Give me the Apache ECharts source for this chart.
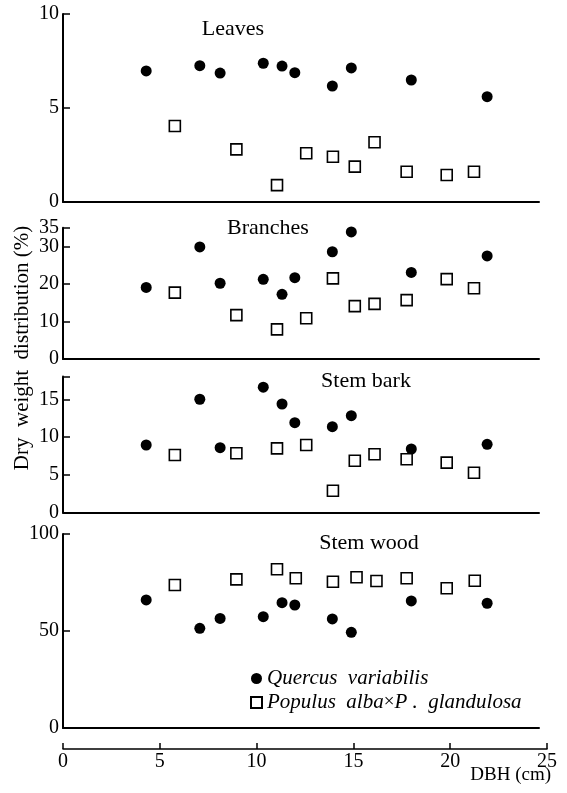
<!DOCTYPE html>
<html>
<head>
<meta charset="utf-8">
<script src="https://cdn.jsdelivr.net/npm/echarts@6/dist/echarts.min.js"></script>
<style>
  html, body { margin: 0; padding: 0; background: #fff; }
  #chart { width: 567px; height: 793px; }
</style>
</head>
<body>
<div id="chart"></div>
<script>
// DBH (cm) of the sampled trees, shared by the panels
const quercusDbh = [4.3, 7.07, 8.12, 10.35, 11.32, 11.98, 13.92, 14.9, 18.0, 21.92]
const populusDbh = [5.78, 8.96, 11.06, 12.57, 13.95, 15.08, 16.1, 17.76, 19.83, 21.24]
const populusDbhWood = [5.78, 8.96, 11.06, 12.03, 13.95, 15.17, 16.2, 17.76, 19.83, 21.28]

// dry weight distribution (%)
const leavesQuercus = [6.97, 7.25, 6.86, 7.38, 7.23, 6.88, 6.17, 7.13, 6.49, 5.6]
const leavesPopulus = [4.04, 2.8, 0.9, 2.59, 2.41, 1.88, 3.18, 1.61, 1.44, 1.61]
const branchesQuercus = [19.1, 29.9, 20.2, 21.25, 17.25, 21.7, 28.6, 33.9, 23.1, 27.5]
const branchesPopulus = [17.7, 11.7, 7.9, 10.85, 21.5, 14.1, 14.7, 15.7, 21.3, 18.85]
const barkQuercus = [8.94, 15.0, 8.58, 16.6, 14.37, 11.9, 11.36, 12.82, 8.41, 9.03]
const barkPopulus = [7.62, 7.84, 8.5, 8.94, 2.89, 6.86, 7.71, 7.05, 6.6, 5.27]
const woodQuercus = [66.0, 51.4, 56.5, 57.4, 64.6, 63.4, 56.2, 49.3, 65.5, 64.3]
const woodPopulus = [73.7, 76.6, 81.8, 77.2, 75.4, 77.7, 75.8, 77.2, 72.0, 75.9]

const panelNames = ['Leaves', 'Branches', 'Stem bark', 'Stem wood']
const yMax = [10, 35, 18, 100]
const yTicks = [
  [0, 5, 10],
  [0, 10, 20, 30, 35],
  [0, 5, 10, 15, 18],
  [0, 50, 100]
]
const yLabels = [
  [0, 5, 10],
  [0, 10, 20, 30],
  [0, 5, 10, 15],
  [0, 50, 100]
]
const branchesTopLabel = [35]
const dbhTicks = [0, 25, 5]

const QUERCUS = 'Quercus variabilis'
const POPULUS = 'Populus alba×P. glandulosa'
const FONT = '"Liberation Serif", "DejaVu Serif", serif'

const chart = echarts.init(document.getElementById('chart'))

const grids = [
  { left: 63, top: 14, width: 476, height: 188 },
  { left: 63, top: 227.75, width: 476, height: 131.25 },
  { left: 63, top: 376.6, width: 476, height: 135.9 },
  { left: 63, top: 534, width: 476, height: 194 },
  { left: 63, top: 748, width: 484, height: 1 }
]

const xAxes = [0, 1, 2, 3].map(i => ({
  gridIndex: i, type: 'value', min: 0, max: 24.6,
  axisLine: { show: true, lineStyle: { color: '#000', width: 2 } },
  axisTick: { show: false }, axisLabel: { show: false }, splitLine: { show: false }
}))
xAxes.push({
  gridIndex: 4, type: 'value', min: dbhTicks[0], max: dbhTicks[1], interval: dbhTicks[2],
  axisLine: { show: true, lineStyle: { color: '#000', width: 1.5 } },
  axisTick: { show: true, inside: true, length: 6, lineStyle: { color: '#000', width: 1.5 } },
  axisLabel: { color: '#000', fontSize: 20, fontFamily: FONT, margin: 3 },
  splitLine: { show: false }
})

const yLabelStyle = { color: '#000', fontSize: 20, fontFamily: FONT, margin: 4 }
const yAxes = [0, 1, 2, 3].map(i => ({
  gridIndex: i, type: 'value', position: 'left', min: 0, max: yMax[i],
  axisLine: { show: true, lineStyle: { color: '#000', width: 2 } },
  axisTick: { show: true, inside: true, length: 7, customValues: yTicks[i],
              lineStyle: { color: '#000', width: 1.5 } },
  axisLabel: Object.assign({ customValues: yLabels[i] }, yLabelStyle),
  splitLine: { show: false }
}))
yAxes.push({ gridIndex: 4, type: 'value', min: 0, max: 1, show: false })
// separate label-only axis so "35" sits right above "30" without being hidden
yAxes.push({
  gridIndex: 1, type: 'value', position: 'left', min: 0, max: yMax[1],
  axisLine: { show: false }, axisTick: { show: false }, splitLine: { show: false },
  axisLabel: Object.assign({ customValues: branchesTopLabel }, yLabelStyle)
})

const pair = (xs, ys) => xs.map((x, k) => [x, ys[k]])
const panels = [
  [leavesQuercus, leavesPopulus, populusDbh],
  [branchesQuercus, branchesPopulus, populusDbh],
  [barkQuercus, barkPopulus, populusDbh],
  [woodQuercus, woodPopulus, populusDbhWood]
]

const series = []
panels.forEach((p, i) => {
  series.push({
    name: QUERCUS, type: 'scatter', xAxisIndex: i, yAxisIndex: i,
    symbol: 'circle', symbolSize: 11, itemStyle: { color: '#000', opacity: 1 },
    data: pair(quercusDbh, p[0])
  })
  series.push({
    name: POPULUS, type: 'scatter', xAxisIndex: i, yAxisIndex: i,
    symbol: 'rect', symbolSize: 11,
    itemStyle: { color: '#fff', borderColor: '#000', borderWidth: 1.6, opacity: 1 },
    data: pair(p[2], p[1])
  })
})

const titlePos = [[233, 29], [268, 228], [366, 381], [369, 543]]
const graphic = panelNames.map((t, i) => ({
  type: 'text', x: titlePos[i][0], y: titlePos[i][1],
  style: { text: t, font: '22px ' + FONT, fill: '#000', align: 'center', verticalAlign: 'middle',
           textAlign: 'center', textVerticalAlign: 'middle' }
}))
graphic.push({
  type: 'text', x: 22, y: 348, rotation: Math.PI / 2,
  style: { text: 'Dry  weight  distribution (%)', font: '21px ' + FONT, fill: '#000',
           align: 'center', verticalAlign: 'middle', textAlign: 'center', textVerticalAlign: 'middle' }
})
graphic.push({
  type: 'text', x: 551, y: 775,
  style: { text: 'DBH (cm)', font: '19px ' + FONT, fill: '#000',
           align: 'right', verticalAlign: 'middle', textAlign: 'right', textVerticalAlign: 'middle' }
})

chart.setOption({
  backgroundColor: '#fff',
  animation: false,
  grid: grids,
  xAxis: xAxes,
  yAxis: yAxes,
  legend: {
    orient: 'vertical', left: 245, top: 663, itemGap: 3,
    itemWidth: 11, itemHeight: 11,
    data: [{ name: QUERCUS, icon: 'circle' }, { name: POPULUS, icon: 'rect' }],
    formatter: name => name === QUERCUS
      ? '{i|Quercus  variabilis}'
      : '{i|Populus  alba}{n|×}{i|P .  glandulosa}',
    textStyle: {
      color: '#000',
      rich: {
        i: { fontStyle: 'italic', fontFamily: FONT, fontSize: 21, lineHeight: 22, color: '#000' },
        n: { fontFamily: FONT, fontSize: 19, lineHeight: 22, color: '#000' }
      }
    }
  },
  graphic: graphic,
  series: series
})
window.addEventListener('resize', () => chart.resize())
</script>
</body>
</html>
